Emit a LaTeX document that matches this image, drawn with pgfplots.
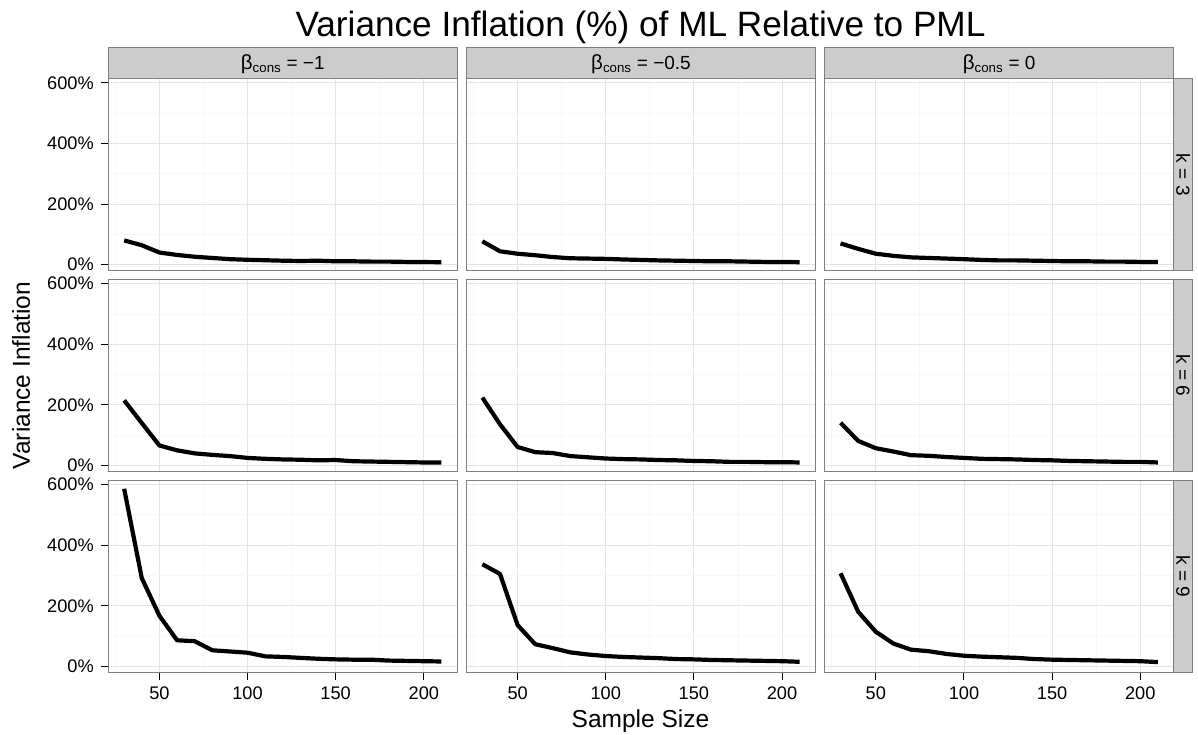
\documentclass[border=0pt]{standalone}
\usepackage{fontspec}
\setmainfont{Liberation Sans}
\usepackage{pgfplots}
\pgfplotsset{compat=1.18}
\definecolor{grey90}{HTML}{E5E5E5}
\definecolor{grey98}{HTML}{F7F7F7}
\definecolor{grey50}{HTML}{7F7F7F}
\definecolor{grey80}{HTML}{CCCCCC}
\pgfplotsset{
  panel/.style={
    anchor=south west,
    width=349pt, height=192.4pt, scale only axis,
    xmin=21, xmax=219, ymin=-21, ymax=614,
    xtick={50,100,150,200}, ytick={0,200,400,600},
    minor xtick={25,75,125,175}, minor ytick={100,300,500},
    grid=both,
    major grid style={draw=grey90, line width=0.9pt},
    minor grid style={draw=grey98, line width=0.9pt},
    axis line style={draw=grey50, line width=1pt},
    tick align=outside, tick pos=left,
    major tick length=7pt, minor tick length=0pt,
    xticklabels={}, yticklabels={},
    xtick style={draw=none}, ytick style={draw=none},
    /pgf/number format/assume math mode=true,
    tick label style={font=\fontsize{18.2}{20}\selectfont, text=black},
    yticklabel style={xshift=-4pt},
    xticklabel style={yshift=-4pt},
  },
  leftcol/.style={ytick style={draw=black, line width=1pt}, yticklabels={0\%,200\%,400\%,600\%}},
  bottomrow/.style={xtick style={draw=black, line width=1pt}, xticklabels={50,100,150,200}},
  vline/.style={black, line width=4.2pt, line join=round, line cap=butt},
}
\begin{document}
\begin{tikzpicture}[x=1pt,y=1pt]
\useasboundingbox (0,0) rectangle (1198,734);
% row 1 (k = 3)
\begin{axis}[panel, leftcol, at={(108.3pt,463pt)}]
\addplot[vline] coordinates {(30,80) (40,64) (50,40) (60,32) (70,26) (80,22) (90,18) (100,16) (110,14.5) (120,13) (130,12) (140,13) (150,11) (160,11) (170,10) (180,10) (190,9) (200,8.5) (210,8)};
\end{axis}
\begin{axis}[panel, at={(466.5pt,463pt)}]
\addplot[vline] coordinates {(30,77) (40,44) (50,36) (60,31) (70,25) (80,21) (90,20) (100,19) (110,17) (120,15.5) (130,14) (140,13) (150,12) (160,11) (170,11) (180,10) (190,9) (200,9) (210,8)};
\end{axis}
\begin{axis}[panel, at={(824.7pt,463pt)}]
\addplot[vline] coordinates {(30,70) (40,52) (50,36) (60,29) (70,24) (80,22) (90,20) (100,18) (110,15.5) (120,14) (130,14) (140,13) (150,12) (160,11) (170,11) (180,10) (190,10) (200,9) (210,9)};
\end{axis}
% row 2 (k = 6)
\begin{axis}[panel, leftcol, at={(108.3pt,262.15pt)}]
\addplot[vline] coordinates {(30,215) (40,140) (50,66) (60,50) (70,40) (80,35) (90,31) (100,25) (110,22) (120,20) (130,19) (140,17) (150,18) (160,14) (170,13) (180,12) (190,11) (200,10) (210,10)};
\end{axis}
\begin{axis}[panel, at={(466.5pt,262.15pt)}]
\addplot[vline] coordinates {(30,224) (40,136) (50,61) (60,44) (70,41) (80,31) (90,27) (100,23) (110,21) (120,20) (130,18) (140,17) (150,15) (160,14) (170,12) (180,12) (190,11) (200,11) (210,10)};
\end{axis}
\begin{axis}[panel, at={(824.7pt,262.15pt)}]
\addplot[vline] coordinates {(30,141) (40,81) (50,57) (60,46) (70,34) (80,32) (90,28) (100,25) (110,22) (120,21) (130,20) (140,18) (150,17) (160,15) (170,14) (180,13) (190,12) (200,12) (210,10)};
\end{axis}
% row 3 (k = 9)
\begin{axis}[panel, leftcol, bottomrow, at={(108.3pt,61.3pt)}]
\addplot[vline] coordinates {(30,586) (40,291) (50,167) (60,86) (70,83) (80,53) (90,49) (100,45) (110,33) (120,31) (130,28) (140,25) (150,23) (160,22) (170,22) (180,19) (190,18) (200,17) (210,16)};
\end{axis}
\begin{axis}[panel, bottomrow, at={(466.5pt,61.3pt)}]
\addplot[vline] coordinates {(30,337) (40,305) (50,136) (60,73) (70,60) (80,46) (90,39) (100,34) (110,31) (120,29) (130,27) (140,24) (150,23) (160,21) (170,20) (180,19) (190,18) (200,17) (210,15)};
\end{axis}
\begin{axis}[panel, bottomrow, at={(824.7pt,61.3pt)}]
\addplot[vline] coordinates {(30,307) (40,180) (50,114) (60,75) (70,55) (80,50) (90,41) (100,35) (110,32) (120,30) (130,28) (140,24) (150,22) (160,21) (170,20) (180,19) (190,18) (200,17) (210,14)};
\end{axis}
% top strips
\begin{scope}[font=\fontsize{19}{21}\selectfont]
\draw[fill=grey80, draw=grey50, line width=1pt] (108.3,655.4) rectangle (457.3,686.5);
\draw[fill=grey80, draw=grey50, line width=1pt] (466.5,655.4) rectangle (815.5,686.5);
\draw[fill=grey80, draw=grey50, line width=1pt] (824.7,655.4) rectangle (1173.7,686.5);
\node[anchor=base] at (282.8,664) {{\fontsize{20.5}{21}\selectfont β}\textsubscript{cons} = −1};
\node[anchor=base] at (641,664) {{\fontsize{20.5}{21}\selectfont β}\textsubscript{cons} = −0.5};
\node[anchor=base] at (999.2,664) {{\fontsize{20.5}{21}\selectfont β}\textsubscript{cons} = 0};
% right strips
\draw[fill=grey80, draw=grey50, line width=1pt] (1173.7,463) rectangle (1192.5,655.4);
\draw[fill=grey80, draw=grey50, line width=1pt] (1173.7,262.15) rectangle (1192.5,454.55);
\draw[fill=grey80, draw=grey50, line width=1pt] (1173.7,61.3) rectangle (1192.5,253.7);
\node[rotate=-90] at (1183.1,559.2) {k = 3};
\node[rotate=-90] at (1183.1,358.35) {k = 6};
\node[rotate=-90] at (1183.1,157.5) {k = 9};
\end{scope}
% titles
\node[anchor=base, font=\fontsize{35.2}{39}\selectfont] at (640.5,697.5) {Variance Inflation (\%) of ML Relative to PML};
\node[anchor=base, font=\fontsize{24.5}{28}\selectfont] at (640.5,7) {Sample Size};
\node[rotate=90, font=\fontsize{24.5}{28}\selectfont] at (21,358.5) {Variance Inflation};
\end{tikzpicture}
\end{document}
